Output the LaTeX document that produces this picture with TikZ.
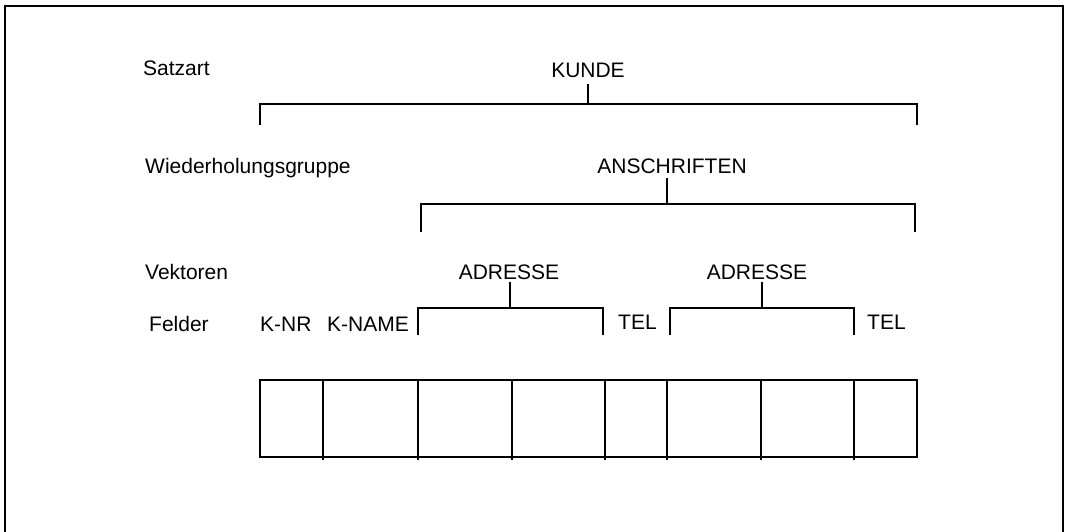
\documentclass[tikz,border=0pt]{standalone}
\usepackage{fontspec}
\setmainfont{Liberation Sans}
\begin{document}
\begin{tikzpicture}[x=1pt,y=-1pt,
  lbl/.style={inner sep=0pt, font=\fontsize{21}{25}\selectfont},
  brk/.style={line width=2pt},
  tbl/.style={line width=2pt},
  frm/.style={line width=1.3pt}]
\useasboundingbox (0,0) rectangle (1067,532);
% outer frame (open at the bottom)
\draw[frm] (5,540) -- (5,6) -- (1063,6) -- (1063,540);

% row labels
\node[lbl, anchor=base west] (satzart) at (143,76) {Satzart};
\node[lbl, anchor=base west] (wgr) at (145,173) {Wiederholungsgruppe};
\node[lbl, anchor=base west] (vek) at (145,279) {Vektoren};
\node[lbl, anchor=base west] (feld) at (149,331) {Felder};

% KUNDE
\node[lbl, anchor=base] (kunde) at (588,78) {KUNDE};
\coordinate (k0) at (588,84);
\coordinate (k1) at (588,104);
\coordinate (kl) at (260,125);
\coordinate (kr) at (917,125);
\draw[brk] (k0) -- (k1);
\draw[brk] (kl) |- (k1) -| (kr);

% ANSCHRIFTEN
\node[lbl, anchor=base] (ansch) at (672,173) {ANSCHRIFTEN};
\coordinate (a0) at (667,178);
\coordinate (a1) at (667,204);
\coordinate (al) at (421,232);
\coordinate (ar) at (915,232);
\draw[brk] (a0) -- (a1);
\draw[brk] (al) |- (a1) -| (ar);

% ADRESSE 1
\node[lbl, anchor=base] (adr1) at (509,279) {ADRESSE};
\coordinate (b0) at (510,282);
\coordinate (b1) at (510,308);
\coordinate (bl) at (418,335);
\coordinate (br) at (603,335);
\draw[brk] (b0) -- (b1);
\draw[brk] (bl) |- (b1) -| (br);

% ADRESSE 2
\node[lbl, anchor=base] (adr2) at (757,279) {ADRESSE};
\coordinate (c0) at (762,282);
\coordinate (c1) at (762,308);
\coordinate (cl) at (670,335);
\coordinate (cr) at (854,335);
\draw[brk] (c0) -- (c1);
\draw[brk] (cl) |- (c1) -| (cr);

% field labels
\node[lbl, anchor=base west] (knr) at (260,331) {K-NR};
\node[lbl, anchor=base west] (kname) at (327,331) {K-NAME};
\node[lbl, anchor=base west] (tel1) at (618,329) {TEL};
\node[lbl, anchor=base west] (tel2) at (867,329) {TEL};

% record table
\draw[tbl] (260,380) rectangle (917,457);
\foreach \x in {323,418,512,605,667,761,854}{
  \draw[tbl] (\x,380) -- (\x,460);
}
\end{tikzpicture}
\end{document}
